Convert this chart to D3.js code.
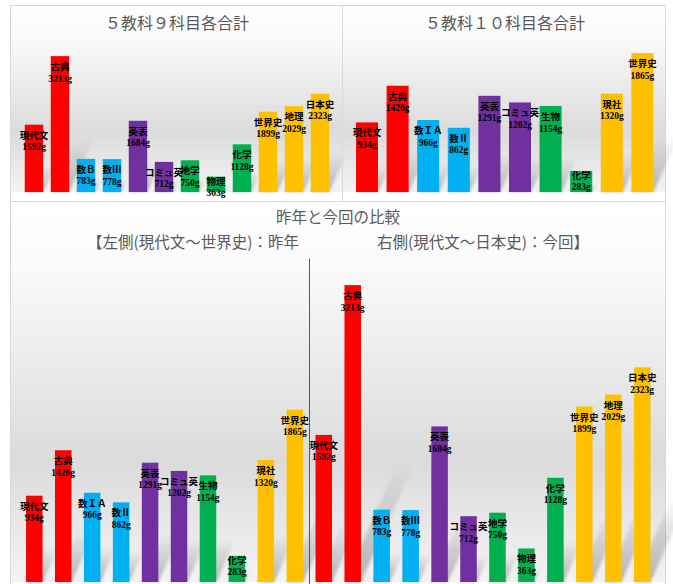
<!DOCTYPE html>
<html><head><meta charset="utf-8">
<script src="https://cdn.jsdelivr.net/npm/d3@7"></script>
<style>
html,body{margin:0;padding:0;background:#fff;}
svg{display:block;}
</style></head>
<body>
<svg id="chart" width="673" height="584"></svg>
<script>
// ---- data ----
const title9 = "５教科９科目各合計";
const title10 = "５教科１０科目各合計";
const titleCmp = "昨年と今回の比較";
const subLeft = "【左側(現代文～世界史)：昨年";
const subRight = "右側(現代文～日本史)：今回】";

const subjects10 = ["現代文","古典","数ＩＡ","数Ⅱ","英表","コミュ英","生物","化学","現社","世界史"];
const groups10   = ["国語","国語","数学","数学","英語","英語","理科","理科","社会","社会"];
const values10   = [934,1426,966,862,1291,1202,1154,283,1320,1865];

const subjects9 = ["現代文","古典","数Ｂ","数Ⅲ","英表","コミュ英","地学","物理","化学","世界史","地理","日本史"];
const groups9   = ["国語","国語","数学","数学","英語","英語","理科","理科","理科","社会","社会","社会"];
const values9   = [1592,3213,783,778,1684,712,750,363,1128,1899,2029,2323];

const groupColors = {"国語":"#FF0000","数学":"#00B0F0","英語":"#7030A0","理科":"#00B050","社会":"#FFC000"};

// ---- drawing ----
const svg = d3.select("#chart");
const defs = svg.append("defs");
defs.append("filter").attr("id","blur").attr("x","-50%").attr("y","-50%").attr("width","200%").attr("height","200%")
  .append("feGaussianBlur").attr("stdDeviation",1.6);
const sg = defs.append("linearGradient").attr("id","shadowGrad").attr("x1",0).attr("y1",1).attr("x2",0).attr("y2",0);
sg.append("stop").attr("offset",0).attr("stop-color","#000").attr("stop-opacity",0.26);
sg.append("stop").attr("offset",1).attr("stop-color","#000").attr("stop-opacity",0);

function bgGradient(id, y1, y2){
  const g = defs.append("linearGradient").attr("id",id).attr("gradientUnits","userSpaceOnUse")
    .attr("x1",0).attr("x2",0).attr("y1",y1).attr("y2",y2);
  [[0,"#ffffff"],[0.18,"#fafafa"],[0.68,"#dbdbdb"],[1,"#f3f3f3"]].forEach(s=>
    g.append("stop").attr("offset",s[0]).attr("stop-color",s[1]));
}

function panel(opt){
  const {id,x0,x1,y0,y1,base} = opt;
  bgGradient(id+"bg", y0, base);
  const g = svg.append("g");
  g.append("rect").attr("x",x0).attr("y",y0).attr("width",x1-x0).attr("height",base-y0)
    .attr("fill",`url(#${id}bg)`);
  g.append("rect").attr("x",x0).attr("y",base).attr("width",x1-x0).attr("height",y1-base).attr("fill","#fff");
  g.append("rect").attr("x",x0+0.5).attr("y",y0+0.5).attr("width",x1-x0-1).attr("height",y1-y0-1)
    .attr("fill","none").attr("stroke","#d9d9d9").attr("stroke-width",1);
  return g;
}

function bars(g, names, groups, values, x, y, base){
  const data = names.map((n,i)=>({key:i, name:n, group:groups[i], value:values[i]}));
  const bw = x.bandwidth();
  // shadows
  g.append("g").attr("filter","url(#blur)").selectAll("polygon").data(data).join("polygon")
    .attr("fill","url(#shadowGrad)")
    .attr("points", d=>{
      const xl = x(d.key), h = base - y(d.value);
      const dy = h*0.4, dx = dy*0.45;
      return [[xl,base],[xl+bw,base],[xl+bw+dx,base-dy],[xl+dx,base-dy]].map(p=>p.join(",")).join(" ");
    });
  g.append("g").selectAll("rect").data(data).join("rect")
    .attr("x",d=>x(d.key)).attr("y",d=>y(d.value))
    .attr("width",bw).attr("height",d=>base-y(d.value))
    .attr("fill",d=>groupColors[d.group]);
  const lab = g.append("g").attr("font-family","'Liberation Serif','Noto Sans CJK JP',serif")
    .attr("font-weight","bold").attr("font-size","9.5px").attr("fill","#000").attr("text-anchor","middle");
  data.forEach(d=>{
    const top = y(d.value), h = base-top, cx = x(d.key)+bw/2;
    const b1 = top + (h < 30 ? 8 : 14);
    lab.append("text").attr("x",cx).attr("y",b1).text(d.name);
    lab.append("text").attr("x",cx).attr("y",b1+11.5).text(d.value+"g");
  });
}

const titleFont = "'Noto Sans CJK JP','Noto Sans',sans-serif";

// Panel 1
{
  const base = 192;
  const g = panel({id:"p1",x0:10,x1:343,y0:5,y1:202,base});
  const x = d3.scaleBand().domain(d3.range(subjects9.length)).range([21,333]).paddingInner(0.29).paddingOuter(0.145);
  const y = d3.scaleLinear().domain([0,3500]).range([base,44]);
  bars(g, subjects9, groups9, values9, x, y, base);
  g.append("text").attr("x",177).attr("y",29).attr("text-anchor","middle")
    .attr("font-family",titleFont).attr("font-size","16px").attr("fill","#595959").text(title9);
}
// Panel 2
{
  const base = 192;
  const g = panel({id:"p2",x0:342,x1:666,y0:5,y1:202,base});
  const x = d3.scaleBand().domain(d3.range(subjects10.length)).range([351.7,657.7]).paddingInner(0.28).paddingOuter(0.14);
  const y = d3.scaleLinear().domain([0,2000]).range([base,43]);
  bars(g, subjects10, groups10, values10, x, y, base);
  g.append("text").attr("x",505).attr("y",29).attr("text-anchor","middle")
    .attr("font-family",titleFont).attr("font-size","16px").attr("fill","#595959").text(title10);
}
// Panel 3
{
  const base = 582;
  const g = panel({id:"p3",x0:10,x1:666,y0:201,y1:610,base});
  const names = subjects10.concat(subjects9);
  const groups = groups10.concat(groups9);
  const values = values10.concat(values9);
  const x = d3.scaleBand().domain(d3.range(names.length)).range([19.8,656.7]).paddingInner(0.43).paddingOuter(0.215);
  const y = d3.scaleLinear().domain([0,3500]).range([base,258.6]);
  bars(g, names, groups, values, x, y, base);
  const n = subjects10.length;
  const sx = Math.round((x(n-1)+x.bandwidth()+x(n))/2)+0.5;
  g.append("line").attr("x1",sx).attr("x2",sx).attr("y1",y(3500)).attr("y2",600)
    .attr("stroke","#595959").attr("stroke-width",1);
  const cx = 338;
  g.append("text").attr("x",cx).attr("y",223).attr("text-anchor","middle")
    .attr("font-family",titleFont).attr("font-size","15.5px").attr("fill","#595959").text(titleCmp);
  g.append("text").attr("x",cx-39).attr("y",248).attr("text-anchor","end")
    .attr("font-family",titleFont).attr("font-size","15.5px").attr("fill","#595959").text(subLeft);
  g.append("text").attr("x",cx+39).attr("y",248).attr("text-anchor","start")
    .attr("font-family",titleFont).attr("font-size","15.5px").attr("fill","#595959").text(subRight);
}
</script>
</body></html>
